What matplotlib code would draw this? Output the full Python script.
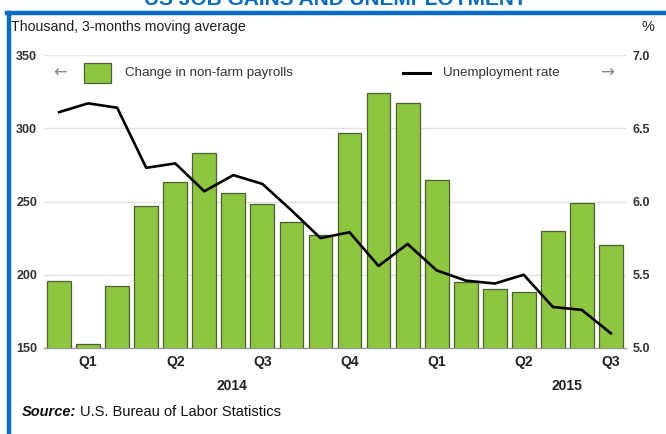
import matplotlib
matplotlib.use('Agg')
import matplotlib.pyplot as plt
from matplotlib.patches import Rectangle
from matplotlib.lines import Line2D
import numpy as np

plt.rcParams['font.family'] = ['Liberation Sans', 'DejaVu Sans']

# monthly data, Jan 2014 - Aug 2015
payrolls = [196, 153, 192, 247, 263, 283, 256, 248, 236, 227, 297,
            324, 317, 265, 195, 190, 188, 230, 249, 220]
unemployment = [6.61, 6.67, 6.64, 6.23, 6.26, 6.07, 6.18, 6.12, 5.94, 5.75,
                5.79, 5.56, 5.71, 5.53, 5.46, 5.44, 5.50, 5.28, 5.26, 5.10]
quarter_pos = [1, 4, 7, 10, 13, 16, 19]
quarter_labels = ['Q1', 'Q2', 'Q3', 'Q4', 'Q1', 'Q2', 'Q3']
years = ['2014', '2015']
year_pos = [5.95, 17.5]

green = '#8dc63f'
edge = '#4f5f35'
blue = '#0a6cc0'

fig = plt.figure(figsize=(6.66, 4.34), dpi=100)
ax = fig.add_axes([44 / 666, 1 - 348 / 434, 582 / 666, 293 / 434])
ax2 = ax.twinx()

x = np.arange(len(payrolls))
ax.bar(x, payrolls, width=0.82, color=green, edgecolor=edge, linewidth=0.9,
       zorder=3)
ax.set_ylim(150, 350)
ax.set_xlim(-0.52, 19.52)
ax.set_yticks([150, 200, 250, 300, 350])
for v in [200, 250, 300, 350]:
    ax.axhline(v, color='#e3e3e3', linewidth=1.0, zorder=1)

ax2.plot(x, unemployment, color='black', linewidth=1.9, zorder=4)
ax2.set_ylim(5.0, 7.0)
ax2.set_yticks([5.0, 5.5, 6.0, 6.5, 7.0])
ax2.set_yticklabels(['5.0', '5.5', '6.0', '6.5', '7.0'])

for a in (ax, ax2):
    for s in a.spines.values():
        s.set_visible(False)
ax.spines['bottom'].set_visible(True)
ax.spines['bottom'].set_color('#9a9a9a')
ax.spines['bottom'].set_linewidth(1.0)

ax.tick_params(axis='y', length=0, pad=5, labelsize=9)
ax2.tick_params(axis='y', length=0, pad=5, labelsize=9)
for lab in ax.get_yticklabels() + ax2.get_yticklabels():
    lab.set_fontweight('bold')
    lab.set_color('#333333')

ax.set_xticks(quarter_pos)
ax.set_xticklabels(quarter_labels, fontsize=10, fontweight='bold', color='#222222')
ax.tick_params(axis='x', length=0, pad=5)
for p, y in zip(year_pos, years):
    ax.text(p, -0.105, y, transform=ax.get_xaxis_transform(), ha='center',
            va='top', fontsize=10, fontweight='bold', color='#222222')

# legend
ax.add_patch(Rectangle((0.0687, 0.904), 0.0464, 0.068, transform=ax.transAxes,
                       facecolor=green, edgecolor=edge, linewidth=0.9,
                       clip_on=False, zorder=5))
ax.text(0.139, 0.938, 'Change in non-farm payrolls', transform=ax.transAxes,
        ha='left', va='center', fontsize=9.6, color='#333333')
ax.add_line(Line2D([0.617, 0.663], [0.938, 0.938], transform=ax.transAxes,
                   color='black', linewidth=2.2, zorder=5))
ax.text(0.6856, 0.938, 'Unemployment rate', transform=ax.transAxes,
        ha='left', va='center', fontsize=9.6, color='#333333')
ax.text(0.0275, 0.938, '\u2190', transform=ax.transAxes, ha='center',
        va='center', fontsize=12, color='#888888', family='DejaVu Sans')
ax.text(0.967, 0.938, '\u2192', transform=ax.transAxes, ha='center',
        va='center', fontsize=12, color='#888888', family='DejaVu Sans')

# header and footer
fig.text(11 / 666, 1 - 27 / 434, 'Thousand, 3-months moving average',
         ha='left', va='center', fontsize=10.2, color='#222222')
fig.text(648 / 666, 1 - 27 / 434, '%', ha='center', va='center',
         fontsize=10.5, color='#222222')
fig.text(335 / 666, 1 - 5 / 434, 'US JOB GAINS AND UNEMPLOYMENT',
         ha='center', va='baseline', fontsize=15, fontweight='bold',
         color=blue)
fig.text(22 / 666, 1 - 412 / 434, 'Source:', ha='left', va='center',
         fontsize=10.5, fontstyle='italic', fontweight='bold', color='#111111')
fig.text(80 / 666, 1 - 412 / 434, 'U.S. Bureau of Labor Statistics',
         ha='left', va='center', fontsize=10.5, color='#111111')

# frame
fig.add_artist(Line2D([7 / 666, 1], [1 - 13 / 434, 1 - 13 / 434],
                      transform=fig.transFigure, color=blue, linewidth=3.2))
fig.add_artist(Line2D([9 / 666, 9 / 666], [0, 1 - 13 / 434],
                      transform=fig.transFigure, color=blue, linewidth=3.2))

fig.savefig('out.png', dpi=100)
